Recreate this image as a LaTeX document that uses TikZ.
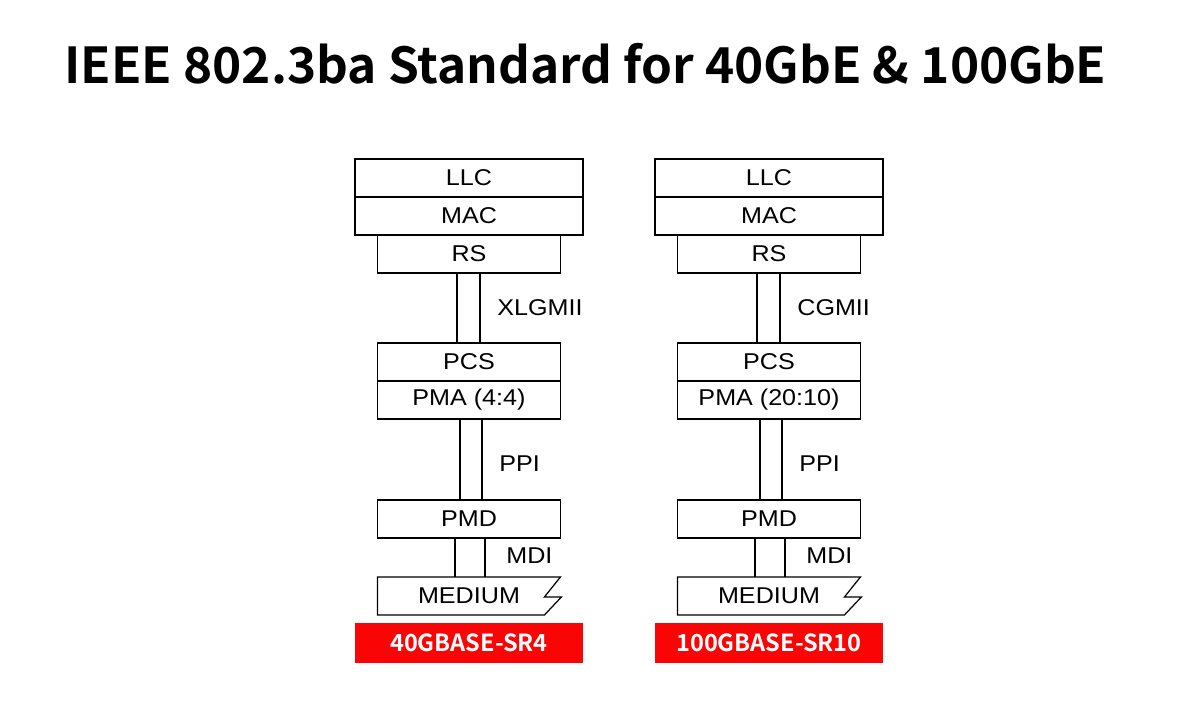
\documentclass[tikz,border=0pt]{standalone}
\usepackage{fontspec}
\usetikzlibrary{positioning}
\usetikzlibrary{calc}
\newfontfamily\boxfont{Liberation Sans}[FakeStretch=1.1]
\newfontfamily\headfont{Noto Sans CJK SC Bold}
\definecolor{phyred}{RGB}{250,5,5}
\tikzset{
 layer/.style={draw, line width=0.7pt, minimum width=3.66cm, minimum height=0.76cm, inner sep=0pt, outer sep=0pt, font=\boxfont\fontsize{13}{15}\selectfont},
 wide/.style={layer, minimum width=4.56cm},
 iface/.style={line width=0.7pt},
 iflabel/.style={anchor=west, inner sep=0pt, font=\boxfont\fontsize{13}{15}\selectfont},
 phy/.style={fill=phyred, text=white, minimum width=4.56cm, minimum height=0.8cm, inner sep=0pt, outer sep=0pt, font=\headfont\fontsize{13.4}{15}\selectfont}
}

\begin{document}
\begin{tikzpicture}[x=0.02cm, y=-0.02cm]
\useasboundingbox (0,0) rectangle (1200,721);
\node[anchor=base west, inner sep=0pt, font=\headfont\fontsize{28.2}{32}\selectfont] (title) at (64,83) {IEEE 802.3ba Standard for 40GbE \& 100GbE};
\foreach \s/\xo/\mii/\pma/\phy in {l/469/XLGMII/{PMA (4:4)}/40GBASE-SR4, r/769/CGMII/{PMA (20:10)}/100GBASE-SR10} {
 % upper layers
 \node[wide] (llc\s) at (\xo,178) {LLC};
 \node[wide, below=0pt of llc\s] (mac\s) {MAC};
 \node[layer, below=0pt of mac\s] (rs\s) {RS};
 \node[layer, below=1.4cm of rs\s] (pcs\s) {PCS};
 \node[layer, below=0pt of pcs\s] (pma\s) {\pma};
 \node[layer, below=1.62cm of pma\s] (pmd\s) {PMD};
 \node[layer, draw=none, below=0.78cm of pmd\s] (med\s) {MEDIUM};
 \draw[iface] (med\s.south west) -- (med\s.north west) -- (med\s.north east) -- ++(-16,20) -- ++(17,0) -- ++(-17,18) -- cycle;
 \node[phy, below=0.16cm of med\s] (phy\s) {\phy};
 % interfaces
 \draw[iface] ([xshift=-0.24cm]rs\s.south) -- ([xshift=-0.24cm]pcs\s.north);
 \draw[iface] ([xshift=0.22cm]rs\s.south) -- ([xshift=0.22cm]pcs\s.north);
 \node[iflabel] (mii\s) at ($(rs\s.south)!0.5!(pcs\s.north)+(28,0)$) {\mii};
 \draw[iface] ([xshift=-0.18cm]pma\s.south) -- ([xshift=-0.18cm]pmd\s.north);
 \draw[iface] ([xshift=0.26cm]pma\s.south) -- ([xshift=0.26cm]pmd\s.north);
 \node[iflabel] (ppi\s) at ($(pma\s.south)!0.5!(pmd\s.north)+(30,4)$) {PPI};
 \draw[iface] ([xshift=-0.28cm]pmd\s.south) -- ([xshift=-0.28cm]med\s.north);
 \draw[iface] ([xshift=0.32cm]pmd\s.south) -- ([xshift=0.32cm]med\s.north);
 \node[iflabel] (mdi\s) at ($(pmd\s.south)!0.5!(med\s.north)+(37,-2)$) {MDI};
}
\end{tikzpicture}
\end{document}
